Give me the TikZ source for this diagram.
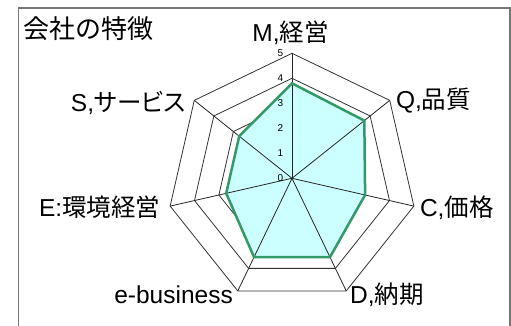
\documentclass[tikz,border=0pt]{standalone}
\usepackage{fontspec}
\setmainfont{Liberation Sans}
\newfontfamily\jp{Noto Sans CJK JP}
\newfontfamily\jpp{Noto Sans CJK JP}[RawFeature=+palt]
\usetikzlibrary{calc}
\definecolor{framegray}{RGB}{118,118,118}
\definecolor{fillcyan}{RGB}{204,255,255}
\definecolor{seagreen}{RGB}{51,153,102}
\begin{document}
\begin{tikzpicture}[x=1pt,y=1pt,
  lbl/.style={inner sep=0pt,font=\fontsize{24.5}{28}\selectfont},
  ticklbl/.style={inner sep=0pt,font=\fontsize{10}{12}\selectfont,anchor=east},
  gridline/.style={draw=black!80,line width=0.8pt,line join=miter},
  spoke/.style={draw=black!85,line width=0.8pt},
  series/.style={draw=seagreen,line width=2.5pt,line join=miter},
  framebox/.style={draw=framegray,line width=1.4pt}]
\useasboundingbox (0,0) rectangle (511,-326);
\clip (0,0) rectangle (511,-326);
\fill[white] (0,0) rectangle (511,-326);
\draw[framebox] (18.3,-340) -- (18.3,-8) -- (509.8,-8) -- (509.8,-340);
\coordinate (c) at (292,-178.3);
\foreach \k in {0,...,6}{
  \pgfmathsetmacro\ang{90-\k*360/7}
  \foreach \r in {1,...,5}{
    \coordinate (g\r-\k) at ($(c)+(\ang:{\r*25})$);
  }
}
\foreach \r in {1,...,5}{
  \draw[gridline] (g\r-0) -- (g\r-1) -- (g\r-2) -- (g\r-3) -- (g\r-4) -- (g\r-5) -- (g\r-6) -- cycle;
}
\foreach \v [count=\i from 0] in {3.8,3.7,3.0,3.5,3.5,2.7,2.7}{
  \coordinate (d\i) at ($(c)+({90-\i*360/7}:{\v*25})$);
}
\fill[fillcyan] (d0) -- (d1) -- (d2) -- (d3) -- (d4) -- (d5) -- (d6) -- cycle;
\foreach \k in {0,...,6}{
  \draw[spoke] (c) -- (g5-\k);
}
\draw[series] (d0) -- (d1) -- (d2) -- (d3) -- (d4) -- (d5) -- (d6) -- cycle;
\foreach \r in {0,...,5}{
  \node[ticklbl] (t\r) at (283.5,{-178.3+\r*25}) {\r};
}
\node[inner sep=0pt,anchor=base west,font=\fontsize{26}{30}\selectfont\jp] (title) at (23.7,-38.2) {会社の特徴};
\node[lbl,anchor=base] (lm) at (290.5,-41.7) {M,{\jp 経営}};
\node[lbl,anchor=base west] (lq) at (395.8,-108.5) {Q,{\jp 品質}};
\node[lbl,anchor=base west] (lc) at (419.8,-216.7) {C,{\jp 価格}};
\node[lbl,anchor=base west] (ld) at (350,-303.3) {D,{\jp 納期}};
\node[lbl,anchor=base east] (le) at (233,-303.3) {e-business};
\node[lbl,anchor=base east] (lenv) at (160.5,-216.7) {E:{\jp 環境経営}};
\node[lbl,anchor=base east] (ls) at (186,-112) {S,{\jpp サービス}};
\end{tikzpicture}
\end{document}
